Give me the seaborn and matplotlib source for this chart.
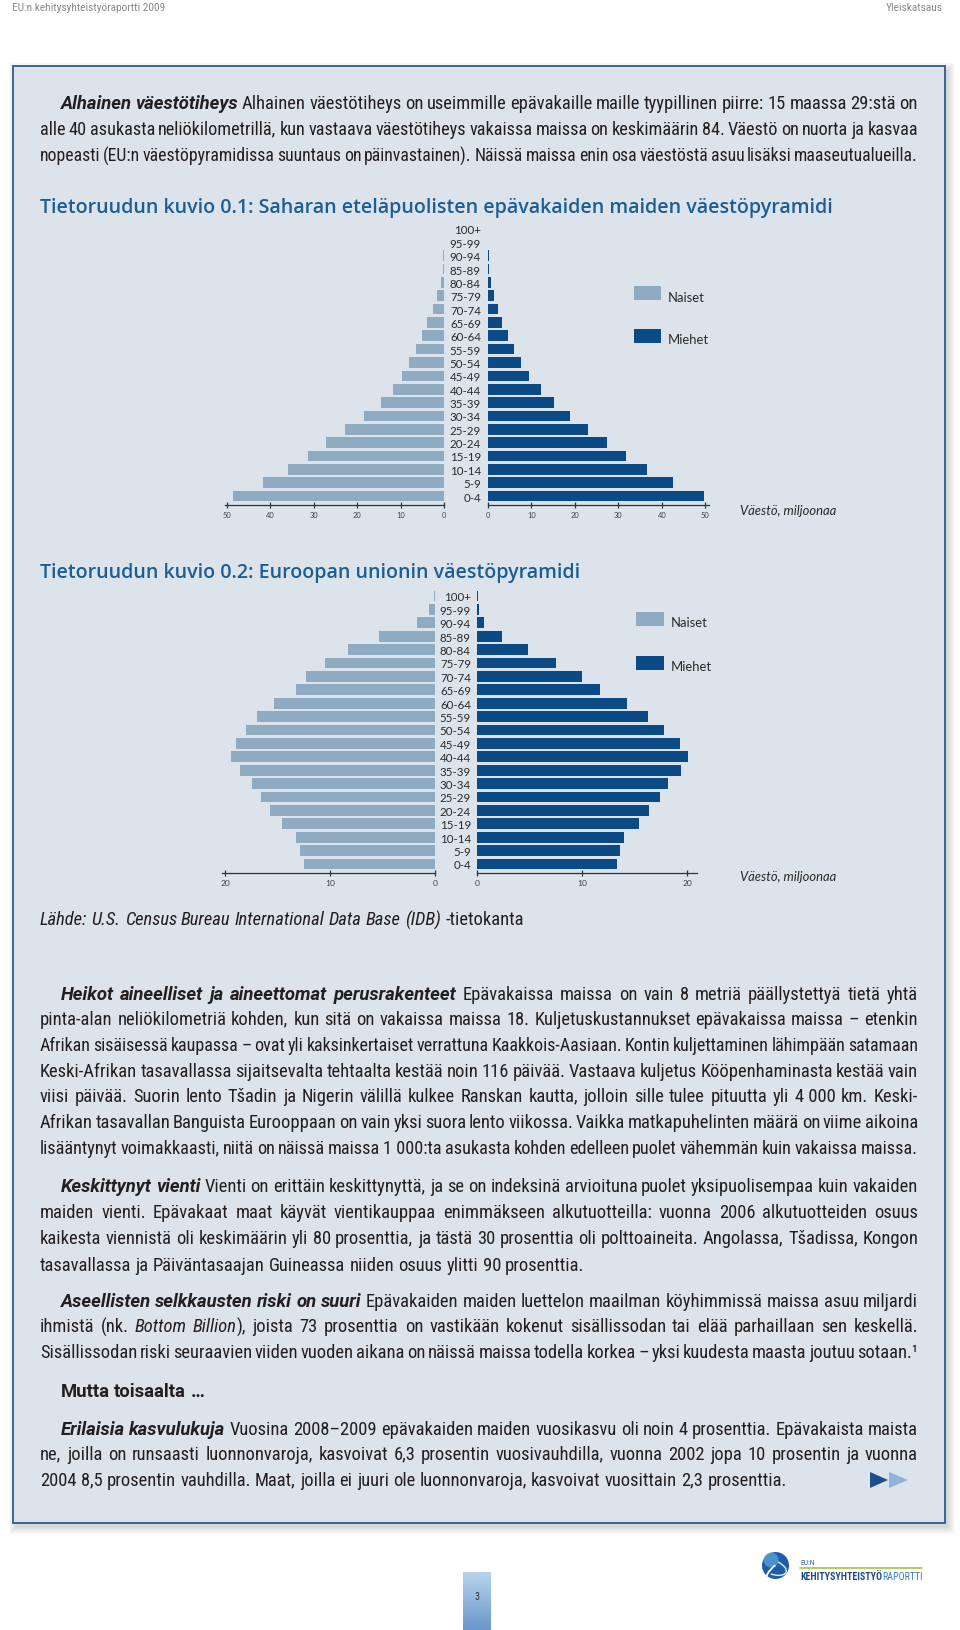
import numpy as np
import pandas as pd
import matplotlib
matplotlib.use('Agg')
import matplotlib.pyplot as plt
import seaborn as sns
from matplotlib import font_manager as fm
from matplotlib.patches import Rectangle, Polygon, Circle, Arc

# ---------------- DATA ----------------
age_groups = ['100+', '95-99', '90-94', '85-89', '80-84', '75-79', '70-74', '65-69',
              '60-64', '55-59', '50-54', '45-49', '40-44', '35-39', '30-34', '25-29',
              '20-24', '15-19', '10-14', '5-9', '0-4']

# Sub-Saharan fragile states, million
ssa_women = [0.05, 0.1, 0.15, 0.3, 0.8, 1.6, 2.6, 3.8, 5.1, 6.5, 8.0, 9.7, 11.8,
             14.5, 18.3, 22.8, 27.1, 31.2, 35.8, 41.6, 48.5]
ssa_men = [0.05, 0.1, 0.15, 0.3, 0.6, 1.3, 2.2, 3.3, 4.5, 5.9, 7.5, 9.5, 12.2,
           15.3, 18.9, 23.1, 27.3, 31.8, 36.6, 42.6, 49.8]

# European Union, million
eu_women = [0.1, 0.6, 1.7, 5.3, 8.3, 10.5, 12.3, 13.2, 15.3, 17.0, 18.0, 19.0, 19.4,
            18.6, 17.4, 16.6, 15.7, 14.6, 13.2, 12.9, 12.5]
eu_men = [0.05, 0.2, 0.7, 2.4, 4.9, 7.5, 10.0, 11.7, 14.3, 16.3, 17.8, 19.3, 20.1,
          19.4, 18.2, 17.4, 16.4, 15.4, 14.0, 13.6, 13.3]

ssa_ticks = [0, 10, 20, 30, 40, 50]
eu_ticks = [0, 10, 20]
legend_labels = ['Naiset', 'Miehet']
axis_label = 'Väestö, miljoonaa'

header_left = 'EU:n kehitysyhteistyöraportti 2009'
header_right = 'Yleiskatsaus'
title1 = 'Tietoruudun kuvio 0.1: Saharan eteläpuolisten epävakaiden maiden väestöpyramidi'
title2 = 'Tietoruudun kuvio 0.2: Euroopan unionin väestöpyramidi'
NB = '\u00a0'

# text lines: (x0, y_centre, justify, runs)
TEXT_LINES = [
    (61, 104, True, [('bi', 'Alhainen väestötiheys'), ('r', 'Alhainen väestötiheys on useimmille epävakaille maille tyypillinen piirre: 15 maassa 29:stä on')]),
    (40, 130, True, [('r', 'alle 40 asukasta neliökilometrillä, kun vastaava väestötiheys vakaissa maissa on keskimäärin 84. Väestö on nuorta ja kasvaa')]),
    (40, 156, True, [('r', 'nopeasti (EU:n väestöpyramidissa suuntaus on päinvastainen). Näissä maissa enin osa väestöstä asuu lisäksi maaseutualueilla.')]),
    (40, 920, False, [('i', 'Lähde: U.S. Census Bureau International Data Base (IDB)'), ('r', '-tietokanta')]),
    (61, 995, True, [('bi', 'Heikot aineelliset ja aineettomat perusrakenteet'), ('r', 'Epävakaissa maissa on vain 8 metriä päällystettyä tietä yhtä')]),
    (40, 1020, True, [('r', 'pinta-alan neliökilometriä kohden, kun sitä on vakaissa maissa 18. Kuljetuskustannukset epävakaissa maissa – etenkin')]),
    (40, 1046, True, [('r', 'Afrikan sisäisessä kaupassa – ovat yli kaksinkertaiset verrattuna Kaakkois-Aasiaan. Kontin kuljettaminen lähimpään satamaan')]),
    (40, 1072, True, [('r', 'Keski-Afrikan tasavallassa sijaitsevalta tehtaalta kestää noin 116 päivää. Vastaava kuljetus Kööpenhaminasta kestää vain')]),
    (40, 1097, True, [('r', 'viisi päivää. Suorin lento Tšadin ja Nigerin välillä kulkee Ranskan kautta, jolloin sille tulee pituutta yli 4' + NB + '000 km. Keski-')]),
    (40, 1123, True, [('r', 'Afrikan tasavallan Banguista Eurooppaan on vain yksi suora lento viikossa. Vaikka matkapuhelinten määrä on viime aikoina')]),
    (40, 1149, True, [('r', 'lisääntynyt voimakkaasti, niitä on näissä maissa 1' + NB + '000:ta asukasta kohden edelleen puolet vähemmän kuin vakaissa maissa.')]),
    (61, 1187, True, [('bi', 'Keskittynyt vienti'), ('r', 'Vienti on erittäin keskittynyttä, ja se on indeksinä arvioituna puolet yksipuolisempaa kuin vakaiden')]),
    (40, 1213, True, [('r', 'maiden vienti. Epävakaat maat käyvät vientikauppaa enimmäkseen alkutuotteilla: vuonna 2006 alkutuotteiden osuus')]),
    (40, 1239, True, [('r', 'kaikesta viennistä oli keskimäärin yli 80 prosenttia, ja tästä 30 prosenttia oli polttoaineita. Angolassa, Tšadissa, Kongon')]),
    (40, 1266, False, [('r', 'tasavallassa ja Päiväntasaajan Guineassa niiden osuus ylitti 90 prosenttia.')]),
    (61, 1302, True, [('bi', 'Aseellisten selkkausten riski on suuri'), ('r', 'Epävakaiden maiden luettelon maailman köyhimmissä maissa asuu miljardi')]),
    (40, 1327, True, [('r', 'ihmistä (nk.'), ('i', 'Bottom Billion'), ('r+', '), joista 73 prosenttia on vastikään kokenut sisällissodan tai elää parhaillaan sen keskellä.')]),
    (40, 1353, True, [('r', 'Sisällissodan riski seuraavien viiden vuoden aikana on näissä maissa todella korkea – yksi kuudesta maasta joutuu sotaan.¹')]),
    (61, 1392, False, [('b', 'Mutta toisaalta …')]),
    (61, 1430, True, [('bi', 'Erilaisia kasvulukuja'), ('r', 'Vuosina 2008–2009 epävakaiden maiden vuosikasvu oli noin 4 prosenttia. Epävakaista maista')]),
    (40, 1455, True, [('r', 'ne, joilla on runsaasti luonnonvaroja, kasvoivat 6,3 prosentin vuosivauhdilla, vuonna 2002 jopa 10 prosentin ja vuonna')]),
    (40, 1481, False, [('r', '2004 8,5 prosentin vauhdilla. Maat, joilla ei juuri ole luonnonvaroja, kasvoivat vuosittain 2,3 prosenttia.')]),
]

# ---------------- STYLE ----------------
sns.set_theme(style='white')
names = {f.name for f in fm.fontManager.ttflist}


def pick(cands, default='DejaVu Sans'):
    for c in cands:
        if c in names:
            return c
    return default


BODY = pick(['Liberation Sans Narrow', 'Roboto Condensed', 'Open Sans Condensed', 'Roboto', 'Liberation Sans'])
LEAD = pick(['Roboto', 'Lato', BODY])
HEAD = pick(['Open Sans', 'Lato', 'Noto Sans'])
CH = pick(['Lato', 'Open Sans', 'Noto Sans'])
plt.rcParams['font.family'] = [CH, 'DejaVu Sans']

W, H = 960, 1631
LIGHT = '#8eabc2'
DARK = '#0b4a85'
BOXC = '#dce3eb'
BORDER = '#2b5d8e'
TXT = '#231f20'
TITLEC = '#1b5d96'


def pt(px):
    return px * 72.0 / 100.0


fig = plt.figure(figsize=(W / 100, H / 100), dpi=100, facecolor='white')
page = fig.add_axes([0, 0, 1, 1])
page.set_xlim(0, W)
page.set_ylim(H, 0)
page.axis('off')
renderer = fig.canvas.get_renderer()

FAM = [BODY, 'DejaVu Sans']
FAML = [LEAD, 'DejaVu Sans']
STY = {'r': dict(family=FAM, style='normal', weight='normal'),
       'i': dict(family=FAM, style='italic', weight='normal'),
       'b': dict(family=FAML, style='normal', weight='bold'),
       'bi': dict(family=FAML, style='italic', weight='bold')}


def twidth(t):
    return t.get_window_extent(renderer).width


def snap_y(t, yb):
    # keep every word on one common pixel baseline (the Agg rasteriser rounds
    # each string by its own descent)
    w, h, d = renderer.get_text_width_height_descent(t.get_text(), t.get_fontproperties(), ismath=False)
    B = round(yb)
    t.set_y(B + np.floor(h) - np.floor(h - d) - d)


def items_of(runs):
    out = []
    for st, txt in runs:
        attach = st.endswith('+')
        st = st.rstrip('+')
        words = [w for w in txt.split(' ') if w]
        for j, w in enumerate(words):
            out.append((w, st, attach and j == 0))
    return out


def space_px(size):
    a = page.text(0, 0, 'n n', fontsize=pt(size), **STY['r'])
    b = page.text(0, 0, 'nn', fontsize=pt(size), **STY['r'])
    s = twidth(a) - twidth(b)
    a.remove(); b.remove()
    return s


def natural_width(runs, size):
    items = items_of(runs)
    tot = 0
    for w, st, att in items:
        t = page.text(0, 0, w, fontsize=pt(size), **STY[st])
        tot += twidth(t)
        t.remove()
    ngap = sum(1 for it in items[1:] if not it[2])
    return tot + ngap * space_px(size)


def place_line(x0, x1, yb, runs, size, justify):
    items = items_of(runs)
    ts = [page.text(0, yb, w, fontsize=pt(size), va='baseline', ha='left', color=TXT,
                    zorder=5, **STY[st]) for w, st, att in items]
    ngap = sum(1 for it in items[1:] if not it[2])
    for _ in range(40):
        ws = [twidth(t) for t in ts]
        sp = space_px(size)
        if justify and ngap > 0:
            gap = (x1 - x0 - sum(ws)) / ngap
            if gap < 0.55 * sp:
                size *= 0.985
                for t in ts:
                    t.set_fontsize(pt(size))
                continue
        else:
            gap = sp
        break
    x = x0
    for i, (t, w) in enumerate(zip(ts, ws)):
        if i > 0 and not items[i][2]:
            x += gap
        t.set_x(x)
        snap_y(t, yb)
        x += w


# ---------------- PAGE DECORATION ----------------
BX0, BY0, BX1, BY1 = 12.5, 67, 945, 1524
for i in range(8):
    page.add_patch(Rectangle((BX0 - i + 3, BY0 - i + 4), BX1 - BX0 + 2 * i, BY1 - BY0 + 2 * i,
                             fc='black', ec='none', alpha=0.02, zorder=1))
page.add_patch(Rectangle((BX0, BY0), BX1 - BX0, BY1 - BY0, fc=BOXC, ec=BORDER, lw=1.3, zorder=2))

# header
hs = 10.5
t = page.text(12, 11, header_left, fontsize=pt(hs), color='#8a8a8a', va='baseline', **STY['r'])
hs2 = hs * 153 / twidth(t)
t.set_fontsize(pt(hs2))
page.text(943, 11, header_right, fontsize=pt(hs2), color='#8a8a8a', va='baseline', ha='right', **STY['r'])

# body text size calibrated on a free (non-justified) line
ref = TEXT_LINES[-1]
bsize = 16 * (784 - 40) / natural_width(ref[3], 16)
bsize = min(max(bsize, 13.5), 19)
for x0, yc, just, runs in TEXT_LINES:
    place_line(x0, 918, yc + 5, runs, bsize, just)

# titles
tt = page.text(40, 213, title1, fontsize=pt(18), color=TITLEC, va='baseline',
               family=[HEAD, 'DejaVu Sans'], weight='semibold', zorder=5)
tsize = 18 * 793 / twidth(tt)
tt.set_fontsize(pt(tsize))
page.text(40, 578, title2, fontsize=pt(tsize), color=TITLEC, va='baseline',
          family=[HEAD, 'DejaVu Sans'], weight='semibold', zorder=5)

# continuation arrows
page.add_patch(Polygon([(870, 1473), (870, 1489), (888, 1481)], closed=True, fc='#1d4f8c', ec='none', zorder=5))
page.add_patch(Polygon([(889, 1473), (889, 1489), (908, 1481)], closed=True, fc='#8fb3d9', ec='none', zorder=5))

# page number tab
grad = np.linspace(0, 1, 100).reshape(-1, 1)
cmap = matplotlib.colors.LinearSegmentedColormap.from_list('tab', ['#b7d4ec', '#6a96cb'])
page.imshow(grad, extent=(463, 491, 1631, 1573), cmap=cmap, aspect='auto', zorder=3)
page.text(477, 1600, '3', fontsize=pt(10), color='#333333', ha='center', va='baseline', zorder=5,
          family=FAM)

# logo
page.add_patch(Circle((775.5, 1566.5), 13.5, fc='#1e5ea8', ec='none', zorder=4))
page.add_patch(Circle((771, 1561), 7.5, fc='#64a8e0', ec='none', alpha=0.7, zorder=4))
page.add_patch(Arc((781, 1572), 34, 16, angle=-35, theta1=100, theta2=260, color='white', lw=1.3, zorder=5))
page.add_patch(Arc((772, 1568), 30, 14, angle=20, theta1=-60, theta2=80, color='#d8ecf8', lw=1.0, zorder=5))
page.text(800, 1565.5, 'EU:N', fontsize=pt(7.5), color='#2a5fa0', va='baseline', zorder=5, family=FAM)
page.plot([800, 922], [1569, 1569], color='#a6c63c', lw=1.2, zorder=5)
k1 = page.text(800, 1580, 'KEHITYSYHTEISTYÖ', fontsize=pt(10), color='#1f4d8c', va='baseline',
               weight='bold', zorder=5, family=FAM)
k2 = page.text(0, 1580, 'RAPORTTI', fontsize=pt(10), color='#3a7cc4', va='baseline', zorder=5, family=FAM)
lsc = 122 / (twidth(k1) + twidth(k2))
k1.set_fontsize(pt(10 * lsc)); k2.set_fontsize(pt(10 * lsc))
k2.set_x(800 + twidth(k1))

page.set_xlim(0, W)
page.set_ylim(H, 0)


# ---------------- PYRAMIDS ----------------
def add_ax(x0, y0, x1, y1):
    a = fig.add_axes([x0 / W, 1 - y1 / H, (x1 - x0) / W, (y1 - y0) / H])
    a.set_facecolor('none')
    return a


def pyramid(women, men, ticks, left_start, left_zero, right_zero, right_end, ppu,
            row0, step, axis_y, label_pad, tick_px, leg_y, leg_x, lab_y):
    top_px = row0 - 0.7 * step
    ylim = ((axis_y - row0) / step, -0.7)
    axL = add_ax(left_start, top_px, left_zero, axis_y)
    axR = add_ax(right_zero, top_px, right_end, axis_y)
    dfw = pd.DataFrame({'age': age_groups, 'value': women})
    dfm = pd.DataFrame({'age': age_groups, 'value': men})
    sns.barplot(data=dfw, x='value', y='age', order=age_groups, orient='h', color=LIGHT,
                saturation=1, width=0.8, linewidth=0, ax=axL)
    sns.barplot(data=dfm, x='value', y='age', order=age_groups, orient='h', color=DARK,
                saturation=1, width=0.8, linewidth=0, ax=axR)
    axL.set_xlim((left_zero - left_start) / ppu, 0)
    axR.set_xlim(0, (right_end - right_zero) / ppu)
    for a in (axL, axR):
        a.set_ylim(*ylim)
        a.set_xlabel('')
        a.set_ylabel('')
        for s in ('top', 'left', 'right'):
            a.spines[s].set_visible(False)
        a.spines['bottom'].set_color('#333333')
        a.spines['bottom'].set_linewidth(0.9)
        a.set_xticks(ticks)
        a.set_xticklabels([str(v) for v in ticks])
        a.tick_params(axis='x', direction='inout', length=pt(6), width=0.9, color='#333333',
                      labelsize=pt(tick_px), labelcolor='#444444', pad=2.5, bottom=True)
        a.grid(False)
    axL.set_yticks([])
    axR.tick_params(axis='y', length=0, pad=pt(label_pad), labelsize=pt(11.5), labelcolor='#2a2a2a', left=True)
    for lbl in axR.get_yticklabels():
        lbl.set_family([CH, 'DejaVu Sans'])
    # legend
    for (lab, col, yy) in zip(legend_labels, [LIGHT, DARK], leg_y):
        page.add_patch(Rectangle((leg_x, yy), 27.5, 14, fc=col, ec='none', zorder=5))
        page.text(leg_x + 34.5, yy + 14.5, lab, fontsize=pt(13), color='#2a2a2a',
                  va='baseline', zorder=5, family=[CH, 'DejaVu Sans'])
    page.text(740, lab_y, axis_label, fontsize=pt(13), color='#2a2a2a', style='italic',
              va='baseline', zorder=5, family=[CH, 'DejaVu Sans'])


pyramid(ssa_women, ssa_men, ssa_ticks, 225, 444, 488, 708.5, 4.346,
        230, 13.35, 506, 7, 7.5, [287, 330], 633.5, 515)
pyramid(eu_women, eu_men, eu_ticks, 222, 435, 477, 697, 10.5,
        597, 13.4, 874, 6, 8.5, [613, 657], 636, 881)

fig.savefig('out.png', dpi=100, facecolor='white')
